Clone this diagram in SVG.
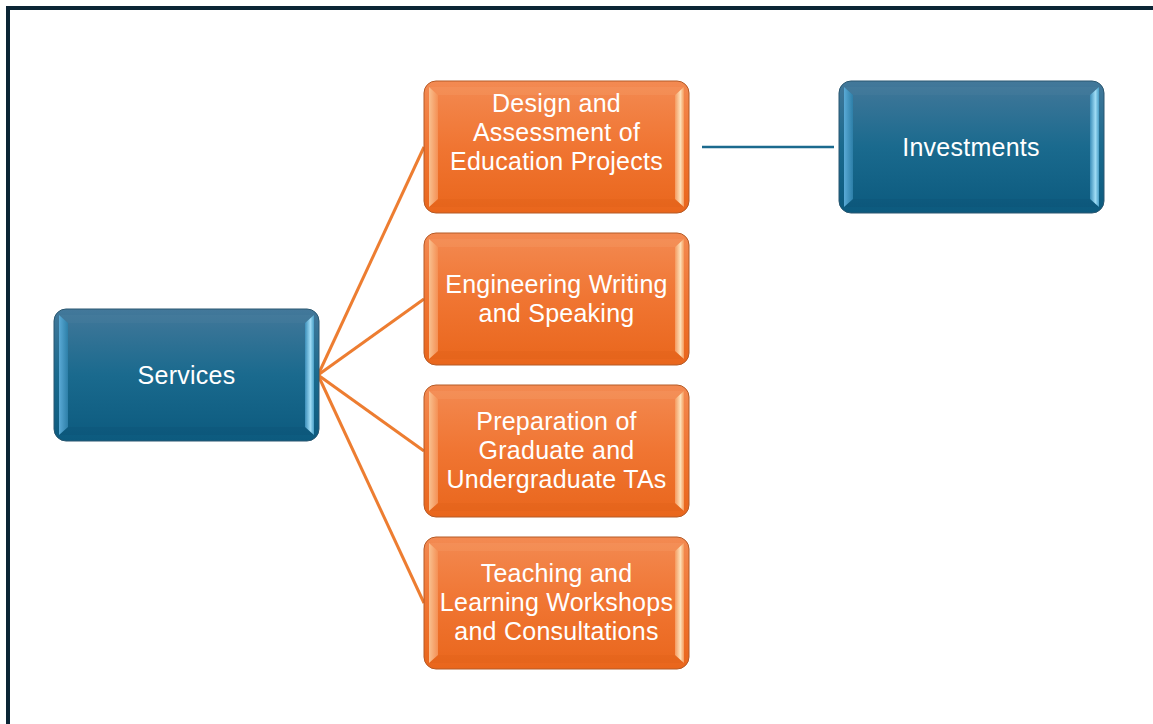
<svg xmlns="http://www.w3.org/2000/svg" width="1153" height="724" viewBox="0 0 1153 724">
<defs>
<linearGradient id="gBlue" x1="0" y1="0" x2="0" y2="1">
<stop offset="0" stop-color="#43789a"/><stop offset="0.5" stop-color="#1a6a8e"/><stop offset="1" stop-color="#0c5a7e"/>
</linearGradient>
<linearGradient id="gOrange" x1="0" y1="0" x2="0" y2="1">
<stop offset="0" stop-color="#f38a52"/><stop offset="0.5" stop-color="#f07532"/><stop offset="1" stop-color="#e9661c"/>
</linearGradient>
<linearGradient id="bLeftB" x1="0" y1="0" x2="1" y2="0">
<stop offset="0" stop-color="#5aaad6"/><stop offset="1" stop-color="#2d7fa8"/>
</linearGradient>
<linearGradient id="bRightB" x1="0" y1="0" x2="1" y2="0">
<stop offset="0" stop-color="#3c8fba"/><stop offset="0.6" stop-color="#9fdcf5"/><stop offset="1" stop-color="#4aa0c8"/>
</linearGradient>
<linearGradient id="bLeftO" x1="0" y1="0" x2="1" y2="0">
<stop offset="0" stop-color="#f9c08f"/><stop offset="1" stop-color="#f49055"/>
</linearGradient>
<linearGradient id="bRightO" x1="0" y1="0" x2="1" y2="0">
<stop offset="0" stop-color="#f49a60"/><stop offset="0.6" stop-color="#fde0b8"/><stop offset="1" stop-color="#f59a5a"/>
</linearGradient>
<g id="bevelB">
<rect x="0" y="0" width="265" height="132" rx="12" fill="url(#gBlue)" stroke="#2a5770" stroke-width="1"/>
<polygon points="5,6 14,14 251,14 260,6" fill="#5b8eaa" opacity="0.15"/>
<polygon points="5,126 14,118 251,118 260,126" fill="#0a4c6c" opacity="0.2"/>
<polygon points="5,6 14,14 14,118 5,126" fill="url(#bLeftB)"/>
<polygon points="260,6 251,14 251,118 260,126" fill="url(#bRightB)"/>
</g>
<g id="bevelO">
<rect x="0" y="0" width="265" height="132" rx="12" fill="url(#gOrange)" stroke="#b55a26" stroke-width="1"/>
<polygon points="5,6 14,14 251,14 260,6" fill="#f8a876" opacity="0.2"/>
<polygon points="5,126 14,118 251,118 260,126" fill="#d95a14" opacity="0.2"/>
<polygon points="5,6 14,14 14,118 5,126" fill="url(#bLeftO)"/>
<polygon points="260,6 251,14 251,118 260,126" fill="url(#bRightO)"/>
</g>
</defs>
<style>
.t{font-family:"Liberation Sans",Arial,sans-serif;font-size:25px;letter-spacing:0.25px;fill:#ffffff;text-anchor:middle;}
.oc{stroke:#ed7d31;stroke-width:3;fill:none;}
.bc{stroke:#1b6a8e;stroke-width:2.5;fill:none;}
</style>
<rect x="0" y="0" width="1153" height="724" fill="#ffffff"/>
<rect x="6" y="6" width="1147" height="4" fill="#0b2535"/>
<rect x="6" y="6" width="4" height="718" fill="#0b2535"/>
<g id="connectors">
<line class="oc" x1="318" y1="375" x2="424" y2="147"/>
<line class="oc" x1="318" y1="375" x2="424" y2="299"/>
<line class="oc" x1="318" y1="375" x2="424" y2="451"/>
<line class="oc" x1="318" y1="375" x2="424" y2="603"/>
<line class="bc" x1="702" y1="147" x2="834" y2="147"/>
</g>
<g id="services">
<use href="#bevelB" x="54" y="309"/>
<text class="t" x="186.5" y="384">Services</text>
</g>
<g id="design">
<use href="#bevelO" x="424" y="81"/>
<text class="t" x="556.5" y="112">Design and</text>
<text class="t" x="556.5" y="141">Assessment of</text>
<text class="t" x="556.5" y="170">Education Projects</text>
</g>
<g id="engineering">
<use href="#bevelO" x="424" y="233"/>
<text class="t" x="556.5" y="293">Engineering Writing</text>
<text class="t" x="556.5" y="322">and Speaking</text>
</g>
<g id="preparation">
<use href="#bevelO" x="424" y="385"/>
<text class="t" x="556.5" y="430">Preparation of</text>
<text class="t" x="556.5" y="459">Graduate and</text>
<text class="t" x="556.5" y="488">Undergraduate TAs</text>
</g>
<g id="teaching">
<use href="#bevelO" x="424" y="537"/>
<text class="t" x="556.5" y="582">Teaching and</text>
<text class="t" x="556.5" y="611">Learning Workshops</text>
<text class="t" x="556.5" y="640">and Consultations</text>
</g>
<g id="investments">
<use href="#bevelB" x="839" y="81"/>
<text class="t" x="971" y="156">Investments</text>
</g>
</svg>
